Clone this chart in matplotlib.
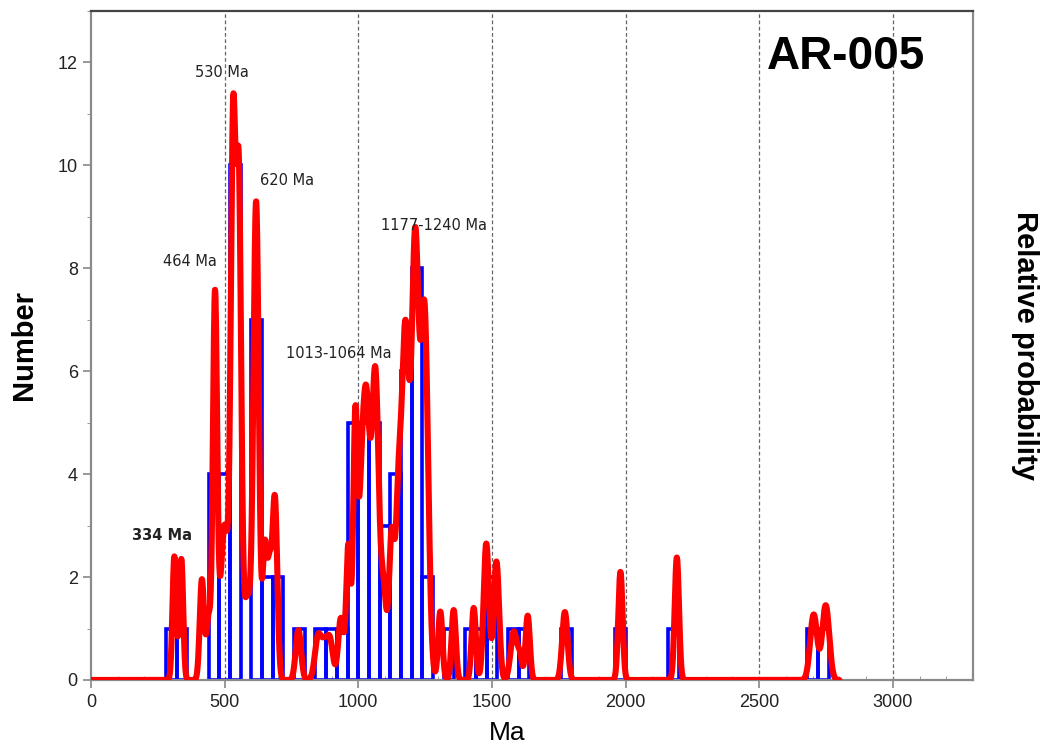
import numpy as np
import matplotlib
matplotlib.use("Agg")
import matplotlib.pyplot as plt
from matplotlib.ticker import MultipleLocator

plt.rcParams['font.family'] = ['Liberation Sans', 'DejaVu Sans']

# histogram: 40 Ma bins (left edges) and grain counts
bin_left = [280, 320, 440, 480, 520, 600, 640, 680, 760, 840, 880, 920,
            960, 1000, 1040, 1080, 1120, 1160, 1200, 1240, 1320, 1400,
            1440, 1480, 1560, 1600, 1760, 1960, 2160, 2680, 2720]
bin_count = [1, 1, 4, 4, 10, 7, 2, 2, 1, 1, 1, 1,
             5, 5, 5, 3, 4, 6, 8, 2, 1, 1,
             1, 2, 1, 1, 1, 1, 1, 1, 1]
bin_width = 40

# probability-density components: age (Ma), peak height, spread (Ma)
peak_age = [312, 338, 415, 440, 464, 500, 532, 553, 585, 618, 650, 668, 688,
            776, 850, 872, 893, 935, 963, 989, 1010, 1030, 1064, 1095,
            1125, 1150, 1176, 1213, 1248,
            1307, 1357, 1432, 1479, 1517, 1582, 1605, 1634,
            1773, 1981, 2192, 2704, 2749]
peak_height = [2.4, 2.35, 1.95, 1.2, 7.4, 3.0, 10.4, 9.4, 1.6, 9.2, 2.5, 2.0, 3.5,
               0.97, 0.85, 0.5, 0.8, 1.2, 2.6, 5.0, 2.4, 5.2, 5.9, 1.6,
               2.8, 3.0, 6.7, 8.4, 7.05,
               1.33, 1.36, 1.4, 2.65, 2.3, 0.94, 0.4, 1.25,
               1.32, 2.1, 2.38, 1.27, 1.45]
peak_sigma = [7, 7, 8, 8, 8, 15, 9, 9, 14, 10, 8, 8, 9,
              10, 12, 10, 12, 10, 8, 8, 10, 13, 13, 10,
              10, 10, 13.5, 13.5, 13.5,
              8, 8, 8, 10, 10, 12, 8, 8,
              10, 8, 8, 13, 13]

peak_labels = ["530 Ma", "620 Ma", "464 Ma", "1177-1240 Ma", "1013-1064 Ma", "334 Ma"]
label_x = [491, 735, 371, 1282, 926, 266]
label_y = [11.8, 9.7, 8.14, 8.84, 6.35, 2.8]

ages = np.linspace(0, 2800, 2801)
density = np.zeros_like(ages)
for a, h, s in zip(peak_age, peak_height, peak_sigma):
    density += h * np.exp(-0.5 * ((ages - a) / s) ** 2)

fig = plt.figure(figsize=(10.47, 7.47), dpi=100)
ax = fig.add_axes([0.0869, 0.0897, 0.8424, 0.8956])

for x in range(500, 3001, 500):
    ax.axvline(x, color="#666666", lw=0.9, ls=(0, (3, 2)), zorder=0)

ax.bar(bin_left, bin_count, width=bin_width, align="edge", fill=False,
       edgecolor="#0000FF", linewidth=2.6, zorder=2)
ax.plot(ages, density, color="#FF0000", lw=4.4, solid_capstyle="round",
        solid_joinstyle="round", zorder=3)

ax.set_xlim(0, 3300)
ax.set_ylim(0, 13)
ax.xaxis.set_major_locator(MultipleLocator(500))
ax.xaxis.set_minor_locator(MultipleLocator(100))
ax.yaxis.set_major_locator(MultipleLocator(2))
ax.yaxis.set_minor_locator(MultipleLocator(1))
ax.tick_params(axis="both", which="major", labelsize=13, color="#888888",
               length=6, width=1.2, labelcolor="#222222")
ax.tick_params(axis="x", which="major", direction="out", pad=4)
ax.tick_params(axis="x", which="minor", direction="in", length=3, color="#888888")
ax.tick_params(axis="y", which="minor", direction="out", length=3, color="#888888")

for side in ["left", "bottom", "right"]:
    ax.spines[side].set_color("#8a8a8a")
    ax.spines[side].set_linewidth(1.6)
ax.spines["top"].set_color("#444444")
ax.spines["top"].set_linewidth(1.6)

ax.set_ylabel("Number", fontsize=21, fontweight="bold")
ax.yaxis.set_label_coords(-0.076, 0.5)
ax.yaxis.label.set_va("center")
ax.set_xlabel("Ma", fontsize=19)
ax.xaxis.set_label_coords(0.472, -0.079)
ax.xaxis.label.set_va("center")

ax2 = ax.twinx()
ax2.set_yticks([])
ax2.set_ylabel("Relative probability", fontsize=21, fontweight="bold", rotation=270)
ax2.yaxis.set_label_coords(1.059, 0.5)
ax2.yaxis.label.set_va("center")
for side in ax2.spines:
    ax2.spines[side].set_visible(False)

for txt, x, y in zip(peak_labels, label_x, label_y):
    weight = "bold" if txt == "334 Ma" else "normal"
    ax.text(x, y, txt, fontsize=10.5, ha="center", va="center",
            family="DejaVu Sans", fontweight=weight, color="#222222", zorder=4)

ax.text(2823, 12.1, "AR-005", fontsize=33, fontweight="bold",
        ha="center", va="center", zorder=4)

fig.savefig("out.png", dpi=100)
